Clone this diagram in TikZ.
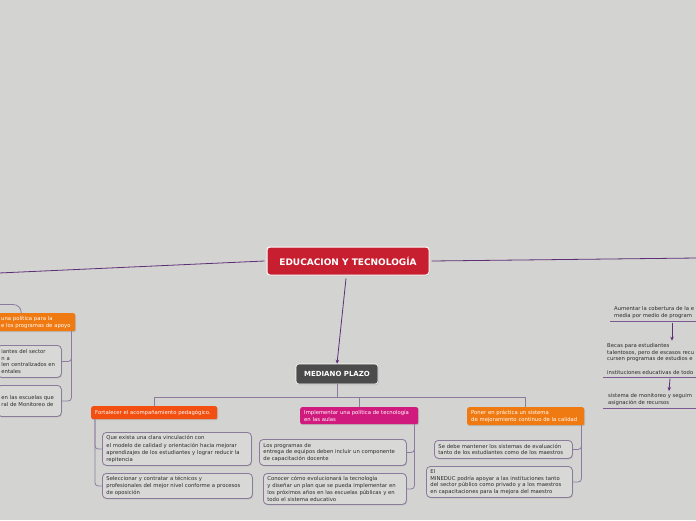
\documentclass[tikz,border=0pt]{standalone}
\usepackage{fontspec}
\setmainfont{DejaVu Sans}
\usetikzlibrary{shadows,arrows.meta}
\definecolor{bg}{HTML}{D3D4D1}
\definecolor{rootred}{HTML}{C81F30}
\definecolor{midgray}{HTML}{4B4B4B}
\definecolor{redorange}{HTML}{F24F10}
\definecolor{magentax}{HTML}{D01A7E}
\definecolor{orangex}{HTML}{F07A12}
\definecolor{mainln}{HTML}{5E2E76}
\definecolor{subln}{HTML}{8C7AA0}
\definecolor{boxfill}{HTML}{D8D8D6}
\definecolor{boxline}{HTML}{8A7A9B}
\definecolor{txt}{HTML}{2A2A2A}
\begin{document}
\begin{tikzpicture}[x=1pt,y=-1pt,
  small/.style={font=\fontsize{5.3}{6.7}\selectfont},
  shad/.style={drop shadow={shadow xshift=0.8pt,shadow yshift=-1pt,opacity=0.3}},
  childbox/.style={draw=boxline,line width=0.8pt,fill=boxfill,rounded corners=4pt,align=left,
    inner xsep=4pt,inner ysep=2pt,text=txt,small,shad,anchor=north west},
  header/.style={rounded corners=2pt,align=left,inner xsep=4pt,inner ysep=1pt,text=white,small,
    anchor=north west,shad},
  note/.style={align=left,inner xsep=0pt,inner ysep=2.5pt,small,text=txt,anchor=south west},
  mainline/.style={draw=mainln,line width=0.8pt},
  subline/.style={draw=subln,line width=0.8pt,rounded corners=3pt},
  uline/.style={draw=mainln!80,line width=0.8pt},
  arr/.style={draw=mainln,line width=0.8pt,-{Stealth[length=4pt,width=3.5pt]}}
]
\fill[bg] (0,0) rectangle (696,520);
\useasboundingbox (0,0) rectangle (696,520);
\clip (0,0) rectangle (696,520);

% root and middle
\node[fill=rootred,draw=white,line width=1pt,rounded corners=3pt,minimum width=162pt,minimum height=28pt,
  text=white,font=\bfseries\fontsize{9}{10}\selectfont,shad] (root) at (348,261) {EDUCACION Y TECNOLOGÍA};
\node[fill=midgray,draw=white,line width=0.6pt,rounded corners=3pt,minimum width=82pt,minimum height=20pt,
  text=white,font=\bfseries\fontsize{7}{8}\selectfont,shad] (mp) at (337,374) {MEDIANO PLAZO};

\coordinate (Lend) at (-10,273.4);
\coordinate (Rend) at (706,257.9);
\draw[mainline] ([xshift=-2pt]root.west) -- (Lend);
\draw[mainline] ([xshift=2pt]root.east) -- (Rend);
\draw[arr] ([xshift=-2pt,yshift=-3pt]root.south) -- (mp.north);

% headers
\node[header,fill=redorange,minimum width=126pt,minimum height=13pt,text width=118pt] (f) at (91,406)
  {Fortalecer el acompañamiento pedagógico.};
\node[header,fill=magentax,minimum width=118pt,minimum height=17pt,text width=110pt] (i) at (300,407)
  {Implementar una política de tecnología\\en las aulas};
\node[header,fill=orangex,minimum width=117pt,minimum height=18pt,text width=109pt] (p) at (467,407)
  {Poner en práctica un sistema\\de mejoramiento continuo de la calidad};

\coordinate (bus) at (337,397);
\draw[subline] (mp.south) -- (bus);
\draw[subline,rounded corners=0pt] (f.north) |- (bus);
\draw[subline,rounded corners=0pt] (p.north) |- (bus);
\draw[subline] (i.north) -- (i.north |- bus);

% children of Fortalecer
\node[childbox,minimum width=149pt,minimum height=33pt,text width=141pt] (c1) at (102,432)
  {Que exista una clara vinculación con\\[1.5pt]el modelo de calidad y orientación hacia mejorar\\aprendizajes de los estudiantes y lograr reducir la\\repitencia};
\node[childbox,minimum width=150pt,minimum height=25pt,text width=142pt] (c2) at (102,473)
  {Seleccionar y contratar a técnicos y\\profesionales del mejor nivel conforme a procesos\\de oposición};
\draw[subline] ([xshift=4pt]f.south west) |- (c1.west);
\draw[subline] ([xshift=4pt]f.south west) |- (c2.west);

% children of Implementar
\node[childbox,minimum width=147pt,minimum height=26pt,text width=139pt] (i1) at (259,439)
  {Los programas de\\entrega de equipos deben incluir un componente\\de capacitación docente};
\node[childbox,minimum width=143pt,minimum height=31pt,text width=135pt] (i2) at (263,473)
  {Conocer cómo evolucionará la tecnología\\y diseñar un plan que se pueda implementar en\\los próximos años en las escuelas públicas y en\\todo el sistema educativo};
\draw[subline] ([xshift=-4pt]i.south east) |- (i1.east);
\draw[subline] ([xshift=-4pt]i.south east) |- (i2.east);

% children of Poner
\node[childbox,minimum width=138pt,minimum height=18pt,text width=130pt] (p1) at (434,440)
  {Se debe mantener los sistemas de evaluación\\tanto de los estudiantes como de los maestros};
\node[childbox,minimum width=146pt,minimum height=31pt,text width=138pt] (p2) at (426,466)
  {El\\MINEDUC podría apoyar a las instituciones tanto\\del sector público como privado y a los maestros\\en capacitaciones para la mejora del maestro};
\draw[subline] ([xshift=-3pt]p.south east) |- (p1.east);
\draw[subline] ([xshift=-3pt]p.south east) |- (p2.east);

% left group (cut by the page edge)
\node[header,fill=orangex,minimum width=78pt,minimum height=18pt,text width=70pt] (la) at (-3,313)
  {una política para la\\e los programas de apoyo};
\node[childbox,minimum width=64pt,minimum height=32pt,text width=56pt] (lb) at (-3,345)
  {iantes del sector\\n a\\len centralizados en\\entales};
\node[childbox,minimum width=64pt,minimum height=31pt,text width=56pt] (lc) at (-3,385)
  {en las escuelas que\\ral de Monitoreo de};
\coordinate (Ltop) at (-10,304.5);
\draw[subline,rounded corners=8pt] (Ltop) -| ([xshift=-15pt]la.north);
\draw[subline] ([xshift=-4pt]la.south east) |- (lb.east);
\draw[subline] ([xshift=-4pt]la.south east) |- (lc.east);

% right group (cut by the page edge)
\node[note] (r1) at (614,321)
  {Aumentar la cobertura de la e\\media por medio de program};
\node[note] (r2) at (607,377)
  {Becas para estudiantes\\talentosos, pero de escasos recu\\cursen programas de estudios e\\[6.7pt]instituciones educativas de todo};
\node[note] (r3) at (608,408)
  {sistema de monitoreo y seguim\\asignación de recursos};
\draw[uline] ([xshift=-4pt]r1.south west) -- (r1.south west -| Rend);
\draw[uline] ([xshift=-4pt]r2.south west) -- (r2.south west -| Rend);
\draw[uline] ([xshift=-5pt]r3.south west) -- (r3.south west -| Rend);
\coordinate (a1) at (672,322.5);
\draw[arr] (a1) -- (a1 |- r2.north);
\coordinate (a2) at (670,378.5);
\coordinate (a2e) at (669,391);
\draw[arr] (a2) -- (a2e);
\end{tikzpicture}
\end{document}
